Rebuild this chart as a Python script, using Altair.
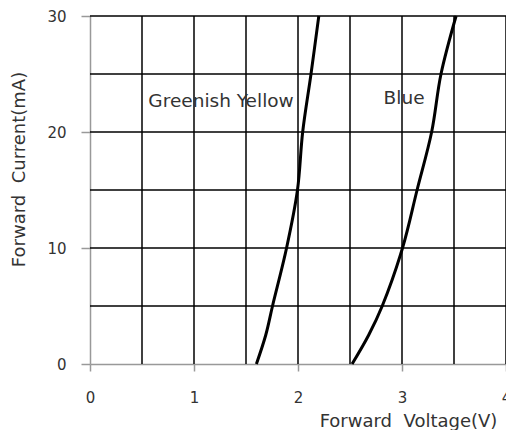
import altair as alt
import pandas as pd

# Forward current (mA) sample levels and read-off voltages
current_ma = [0, 2.5, 5, 10, 15, 20, 25, 30]
gy_voltage = [1.60, 1.69, 1.755, 1.89, 1.995, 2.045, 2.125, 2.20]
blue_voltage = [2.52, 2.68, 2.81, 3.005, 3.145, 3.285, 3.375, 3.52]

x_ticks = [0, 1, 2, 3, 4]
y_ticks = [0, 10, 20, 30]
x_grid = [0.5, 1, 1.5, 2, 2.5, 3, 3.5, 4]
y_grid = [5, 10, 15, 20, 25, 30]

label_names = ["Greenish Yellow", "Blue"]
label_x = [1.26, 3.02]
label_y = [22.7, 22.9]

FONT = "DejaVu Sans"
TXT = "#333333"
NB = "\u00a0"

curves = pd.DataFrame(
    {
        "V": gy_voltage + blue_voltage,
        "I": current_ma + current_ma,
        "series": ["Greenish Yellow"] * len(current_ma) + ["Blue"] * len(current_ma),
        "order": list(range(len(current_ma))) * 2,
    }
)
xg = pd.DataFrame({"v": x_grid})
yg = pd.DataFrame({"i": y_grid})
labels = pd.DataFrame({"name": label_names, "V": label_x, "I": label_y})

xscale = alt.Scale(domain=[0, 4], nice=False, zero=False)
yscale = alt.Scale(domain=[0, 30], nice=False, zero=False)

xaxis = alt.Axis(
    values=x_ticks,
    format="d",
    grid=False,
    title="Forward" + NB + NB + "Voltage(V)",
    titleX=318,
    titleY=57,
    titleAlign="center",
    titleBaseline="middle",
    tickSize=7,
    labelPadding=26,
    labelBaseline="middle",
    labelFlush=False,
)
yaxis = alt.Axis(
    values=y_ticks,
    format="d",
    grid=False,
    title="Forward" + NB + NB + "Current(mA)",
    titleX=-71,
    titleY=153,
    titleAngle=-90,
    titleAlign="center",
    titleBaseline="middle",
    tickSize=9,
    labelPadding=15,
    labelFlush=False,
)

vgrid = alt.Chart(xg).mark_rule(color="black", strokeWidth=1.5).encode(
    x=alt.X("v:Q", scale=xscale, axis=xaxis)
)
hgrid = alt.Chart(yg).mark_rule(color="black", strokeWidth=1.5).encode(
    y=alt.Y("i:Q", scale=yscale, axis=yaxis)
)
lines = (
    alt.Chart(curves)
    .mark_line(color="black", strokeWidth=3, interpolate="catmull-rom")
    .encode(
        x=alt.X("V:Q", scale=xscale),
        y=alt.Y("I:Q", scale=yscale),
        detail="series:N",
        order="order:Q",
    )
)
text = (
    alt.Chart(labels)
    .mark_text(font=FONT, fontSize=18.5, color=TXT, align="center", baseline="middle")
    .encode(x=alt.X("V:Q", scale=xscale), y=alt.Y("I:Q", scale=yscale), text="name:N")
)

chart = (
    alt.layer(vgrid, hgrid, lines, text)
    .properties(
        width=416,
        height=348,
        autosize=alt.AutoSizeParams(type="none"),
        padding={"left": 82, "top": 8, "right": 0, "bottom": 66},
        background="white",
    )
    .configure_view(stroke=None)
    .configure_axis(
        domainColor="#999999",
        domainWidth=1.5,
        tickColor="#999999",
        tickWidth=1.5,
        labelFont=FONT,
        labelFontSize=15,
        labelColor=TXT,
        titleFont=FONT,
        titleFontSize=18,
        titleFontWeight="normal",
        titleColor=TXT,
    )
)

chart.save("out.html", embed_options={"renderer": "svg", "actions": False})
